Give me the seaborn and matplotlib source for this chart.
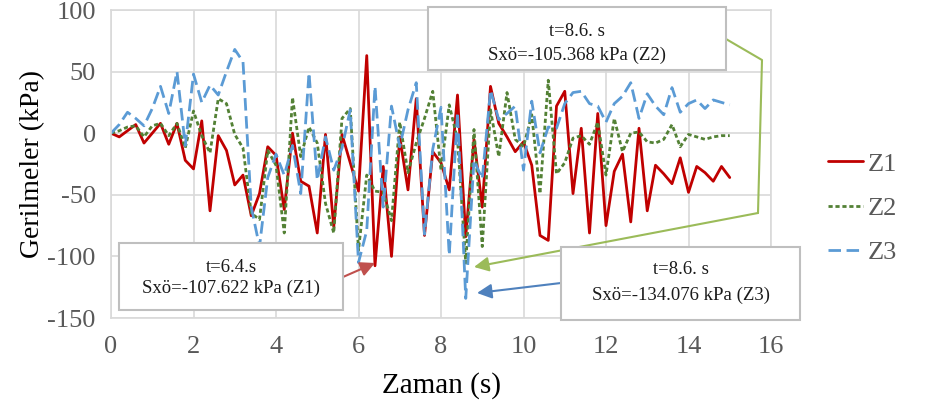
import numpy as np
import pandas as pd
import seaborn as sns
import matplotlib.pyplot as plt
from matplotlib.patches import Rectangle
from matplotlib.lines import Line2D

# time steps (s) and stresses (kPa)
zaman = np.round(np.arange(0, 15.01, 0.2), 1)

z1 = [0, -3, 2, 7, -8, 0, 8, -9, 8, -22,
      -29, 10, -63, -2, -14, -42, -34, -67, -49, -11,
      -18, -62, 0, -39, -43, -81, -1, -76, -1, -24,
      -47, 63, -107.6, -27, -100, -3, -46, 28, -83, -15,
      -24, -46, 31, -84, -5, -60, 38, 8, -3, -15,
      -7, -26, -83, -87, 22, 34, -49, 4, -81, 16,
      -75, -31, -17, -72, 4, -63, -26, -33, -41, -20,
      -48, -27, -32, -39, -27, -36]

z2 = [0, 2, 5, 6, -3, 6, 8, -2, 8, -12,
      18, -2, -16, 28, 24, -1, -12, -65, -70, -14,
      -26, -81, 29, -19, 5, -8, -57, -81, 12, 20,
      -95, -34, -47, -48, -71, 9, -32, -8, 12, 34,
      -30, 23, -5, -105.4, 3, -92, 19, -19, 33, -5,
      -11, 15, -49, 43, -33, -24, -4, -2, -9, 9,
      -34, 12, -15, 0, 1, -7, -8, -5, 7, -11,
      -1, -3, -5, -3, -2, -2]

z3 = [0, 7, 17, 12, 6, 20, 38, 16, 50, -10,
      48, 25, 39, 31, 50, 68, 58, -60, -92, -36,
      -17, -34, -10, -49, 49, -38, -3, -30, -12, 19,
      -105, -79, 38, -60, 22, -11, 19, 41, -82, -13,
      21, -99, 17, -134.1, -22, -37, 35, 11, 16, 22,
      -30, 26, -16, 5, 4, 24, 33, 34, 24, 22,
      9, 24, 30, 41, 12, 32, 22, 15, 37, 17,
      24, 27, 20, 27, 25, 23]

series = ['Z1', 'Z2', 'Z3']
colors = {'Z1': '#C00000', 'Z2': '#538135', 'Z3': '#5B9BD5'}
dashes = {'Z1': '', 'Z2': (1.5, 1.0), 'Z3': (4.5, 2.0)}

df = pd.DataFrame({'t': zaman, 'Z1': z1, 'Z2': z2, 'Z3': z3})
df = df.melt(id_vars='t', var_name='seri', value_name='v')

W, H = 930, 407


def fx(x):
    return x / W


def fy(y):
    return 1 - y / H


def fp(x, y):
    """ image pixel (top-left origin) -> figure pixels """
    return x, H - y


sns.set_theme(style='white')
plt.rcParams['font.family'] = ['Liberation Serif', 'DejaVu Serif']
plt.rcParams['axes.unicode_minus'] = False

fig, ax = plt.subplots(figsize=(W / 100, H / 100), dpi=100)
fig.subplots_adjust(left=fx(111), right=fx(771), top=fy(10), bottom=fy(318))

sns.lineplot(
    data=df, x='t', y='v', hue='seri', style='seri',
    palette=colors, dashes=dashes, linewidth=2.0, ax=ax
)

ax.set_xlim(0, 16)
ax.set_ylim(-150, 100)
ax.set_xticks(np.arange(0, 17, 2))
ax.set_yticks(np.arange(-150, 101, 50))
ax.grid(True, color='#D9D9D9', linewidth=1.2)
for s in ax.spines.values():
    s.set_color('#D9D9D9')
    s.set_linewidth(1.2)
ax.tick_params(axis='both', length=0, labelsize=19, colors='#595959')
ax.tick_params(axis='x', pad=13)
ax.tick_params(axis='y', pad=11)

ax.set_xlabel('Zaman (s)', fontsize=21, color='black', labelpad=10)
ax.set_ylabel('Gerilmeler (kPa)', fontsize=20, color='black')
ax.yaxis.set_label_coords(-0.10, 0.5)

handles, labels = ax.get_legend_handles_labels()
leg = ax.legend(
    handles, labels, loc='center left',
    bbox_to_anchor=(fx(815), fy(208)), bbox_transform=fig.transFigure,
    frameon=False, borderpad=0, handlelength=1.3, handletextpad=0.2,
    labelspacing=0.78, fontsize=19
)
for t in leg.get_texts():
    t.set_color('#595959')
for h in leg.legend_handles:
    h.set_linewidth(2.0)

# callout boxes
boxes = [
    (119, 243, 343, 310, ['t=6.4.s', 'Sxö=-107.622 kPa (Z1)'], (267, 288)),
    (428, 7, 726, 70, ['t=8.6. s', 'Sxö=-105.368 kPa (Z2)'], (31, 55)),
    (561, 247, 800, 320, ['t=8.6. s', 'Sxö=-134.076 kPa (Z3)'], (270, 295)),
]
for x0, y0, x1, y1, lines, ys in boxes:
    fig.add_artist(Rectangle(
        (fx(x0), fy(y1)), fx(x1) - fx(x0), fy(y0) - fy(y1),
        transform=fig.transFigure, facecolor='white',
        edgecolor='#BFBFBF', linewidth=1.5, zorder=5
    ))
    for s, yy in zip(lines, ys):
        fig.text(fx((x0 + x1) / 2), fy(yy), s, ha='center', va='center',
                 fontsize=13.5, color='#1a1a1a', zorder=6)

arrow = dict(arrowstyle='-|>', lw=1.5, mutation_scale=22, shrinkA=0, shrinkB=0)

ax.annotate('', xy=fp(375, 263), xycoords='figure pixels',
            xytext=fp(343, 277), textcoords='figure pixels',
            arrowprops=dict(arrow, color='#C0504D'))

fig.add_artist(Line2D(
    [fx(726), fx(762), fx(758)], [fy(39), fy(60), fy(213)],
    transform=fig.transFigure, color='#9BBB59', linewidth=1.5
))
ax.annotate('', xy=fp(474, 267), xycoords='figure pixels',
            xytext=fp(758, 213), textcoords='figure pixels',
            arrowprops=dict(arrow, color='#9BBB59'))

ax.annotate('', xy=fp(477, 293), xycoords='figure pixels',
            xytext=fp(561, 283), textcoords='figure pixels',
            arrowprops=dict(arrow, color='#4F81BD'))

fig.savefig('out.png', dpi=100)
